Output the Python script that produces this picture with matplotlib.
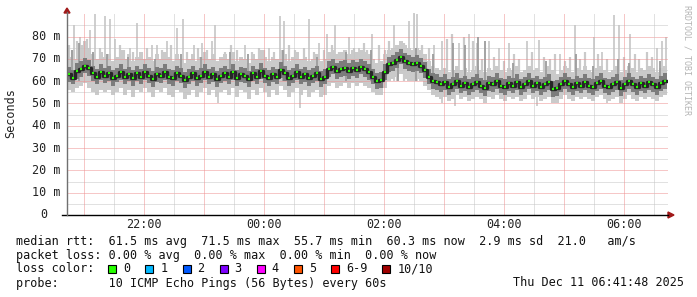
import matplotlib
matplotlib.use("Agg")
import matplotlib.pyplot as plt
from matplotlib.patches import Rectangle, Polygon
import numpy as np

plt.rcParams['lines.scale_dashes'] = False
MONO = 'DejaVu Sans Mono'

# ---------------- data (minutes after 20:43, 4-minute steps) ----------------
step_min = 4
median = [63.0, 61.5, 64.5, 65.5, 67.0, 66.0, 63.5, 62.0, 64.0, 62.5,
          63.5, 61.5, 62.5, 64.0, 62.0, 63.0, 61.5, 63.5, 62.0, 64.0,
          62.5, 61.0, 63.0, 62.5, 64.0, 62.0, 61.5, 63.5, 62.5, 60.5,
          62.0, 63.5, 61.5, 62.5, 64.0, 62.0, 63.0, 61.0, 62.5, 63.5,
          62.0, 64.0, 61.5, 63.0, 62.5, 61.0, 63.5, 62.0, 64.5, 62.5,
          61.5, 63.0, 62.0, 65.0, 63.5, 61.5, 62.5, 64.0, 62.0, 63.0,
          61.5, 62.5, 63.5, 61.0, 62.0, 65.5, 66.5, 64.5, 65.5, 66.0,
          64.5, 66.0, 65.0, 66.5, 65.5, 64.0, 62.0, 60.0, 60.5, 64.0,
          67.5, 68.0, 69.5, 71.0, 69.0, 68.0, 67.5, 68.0, 67.0, 65.0,
          62.0, 60.0, 59.5, 58.5, 59.5, 57.5, 58.5, 60.0, 58.0, 59.0,
          57.5, 58.5, 59.5, 58.0, 57.0, 59.0, 58.5, 60.0, 58.0, 57.5,
          59.0, 58.0, 59.5, 57.5, 58.5, 60.0, 58.0, 59.0, 57.5, 58.5,
          59.5, 56.5, 57.0, 58.5, 60.0, 58.5, 57.5, 59.0, 58.0, 59.5,
          58.0, 57.5, 59.0, 60.0, 58.0, 57.5, 58.5, 59.5, 57.0, 58.5,
          60.0, 58.5, 57.5, 59.0, 58.0, 59.5, 58.5, 57.5, 59.0, 60.0]

light_hi = [71, 74, 70, 76, 78, 75, 72, 70, 73, 71,
            72, 69, 71, 74, 70, 72, 69, 71, 73, 70,
            71, 69, 72, 70, 73, 71, 69, 72, 70, 68,
            70, 72, 69, 71, 73, 70, 72, 69, 71, 72,
            70, 73, 69, 71, 70, 68, 72, 70, 74, 71,
            69, 71, 70, 74, 72, 69, 71, 73, 70, 71,
            69, 70, 72, 69, 70, 73, 74, 72, 73, 74,
            72, 74, 73, 74, 73, 72, 70, 68, 69, 72,
            74, 75, 76, 78, 76, 75, 74, 75, 74, 72,
            69, 67, 66, 65, 66, 64, 65, 67, 65, 66,
            64, 65, 67, 65, 64, 66, 65, 67, 65, 64,
            66, 65, 67, 64, 65, 67, 65, 66, 64, 65,
            67, 65, 63, 65, 67, 66, 64, 66, 65, 67,
            65, 64, 66, 67, 65, 64, 65, 67, 64, 65,
            67, 66, 64, 66, 65, 67, 66, 64, 66, 67]

light_lo = [56, 55, 57, 58, 59, 57, 55, 54, 56, 55,
            56, 54, 55, 57, 54, 56, 53, 56, 55, 57,
            55, 53, 56, 55, 57, 54, 53, 56, 55, 52,
            54, 56, 53, 55, 57, 54, 56, 53, 55, 56,
            54, 57, 53, 56, 55, 52, 56, 54, 57, 55,
            53, 56, 54, 58, 56, 53, 55, 57, 54, 56,
            53, 55, 56, 53, 54, 58, 59, 57, 58, 59,
            57, 59, 58, 59, 58, 57, 55, 54, 54, 57,
            60, 61, 62, 63, 61, 60, 60, 61, 60, 58,
            56, 54, 53, 52, 53, 51, 52, 54, 52, 53,
            51, 52, 53, 52, 50, 53, 52, 54, 52, 51,
            53, 52, 53, 51, 52, 54, 52, 53, 51, 52,
            53, 50, 50, 52, 54, 52, 51, 53, 52, 53,
            52, 51, 53, 54, 52, 51, 52, 53, 50, 52,
            54, 52, 51, 53, 52, 53, 52, 51, 53, 54]

dark_lo = [59.5, 58.5, 61.0, 62.0, 63.5, 62.5, 60.0, 58.5, 60.5, 59.0,
           60.0, 58.0, 59.5, 60.5, 58.5, 60.0, 58.0, 60.0, 58.5, 60.5,
           59.0, 57.5, 59.5, 59.0, 60.5, 58.5, 58.0, 60.0, 59.0, 57.0,
           58.5, 60.0, 58.0, 59.0, 60.5, 58.5, 59.5, 57.5, 59.0, 60.0,
           58.5, 60.5, 58.0, 59.5, 59.0, 57.5, 60.0, 58.5, 61.0, 59.0,
           58.0, 59.5, 58.5, 61.5, 60.0, 58.0, 59.0, 60.5, 58.5, 59.5,
           58.0, 59.0, 60.0, 57.5, 58.5, 62.0, 63.0, 61.0, 62.0, 62.5,
           61.0, 62.5, 61.5, 63.0, 62.0, 60.5, 58.5, 56.5, 57.0, 60.5,
           64.0, 64.5, 66.0, 67.5, 65.5, 64.5, 64.0, 64.5, 63.5, 61.5,
           58.5, 56.5, 56.0, 55.0, 56.0, 54.0, 55.0, 56.5, 54.5, 55.5,
           54.0, 55.0, 56.0, 54.5, 53.5, 55.5, 55.0, 56.5, 54.5, 54.0,
           55.5, 54.5, 56.0, 54.0, 55.0, 56.5, 54.5, 55.5, 54.0, 55.0,
           56.0, 53.0, 53.5, 55.0, 56.5, 55.0, 54.0, 55.5, 54.5, 56.0,
           54.5, 54.0, 55.5, 56.5, 54.5, 54.0, 55.0, 56.0, 53.5, 55.0,
           56.5, 55.0, 54.0, 55.5, 54.5, 56.0, 55.0, 54.0, 55.5, 56.5]

dark_hi = [66.5, 65.0, 68.0, 69.0, 70.5, 69.5, 67.0, 65.5, 67.5, 66.0,
           67.0, 65.0, 66.0, 67.5, 65.5, 66.5, 65.0, 67.0, 65.5, 67.5,
           66.0, 64.5, 66.5, 66.0, 67.5, 65.5, 65.0, 67.0, 66.0, 64.0,
           65.5, 67.0, 65.0, 66.0, 67.5, 65.5, 66.5, 64.5, 66.0, 67.0,
           65.5, 67.5, 65.0, 66.5, 66.0, 64.5, 67.0, 65.5, 68.0, 66.0,
           65.0, 66.5, 65.5, 68.5, 67.0, 65.0, 66.0, 67.5, 65.5, 66.5,
           65.0, 66.0, 67.0, 64.5, 65.5, 69.0, 70.0, 68.0, 69.0, 69.5,
           68.0, 69.5, 68.5, 70.0, 69.0, 67.5, 65.5, 63.5, 64.0, 67.5,
           71.0, 71.5, 73.0, 74.5, 72.5, 71.5, 71.0, 71.5, 70.5, 68.5,
           65.5, 63.5, 63.0, 62.0, 63.0, 61.0, 62.0, 63.5, 61.5, 62.5,
           61.0, 62.0, 63.0, 61.5, 60.5, 62.5, 62.0, 63.5, 61.5, 61.0,
           62.5, 61.5, 63.0, 61.0, 62.0, 63.5, 61.5, 62.5, 61.0, 62.0,
           63.0, 60.0, 60.5, 62.0, 63.5, 62.0, 61.0, 62.5, 61.5, 63.0,
           61.5, 61.0, 62.5, 63.5, 61.5, 61.0, 62.0, 63.0, 60.5, 62.0,
           63.5, 62.0, 61.0, 62.5, 61.5, 63.0, 62.0, 61.0, 62.5, 63.5]

# tall single-minute spikes of the outer smoke (minute after 20:43, top value)
spike_t = [7, 13, 23, 28, 38, 43, 48, 63, 70, 75, 85, 90, 100, 110, 116, 127, 135, 145,
           148, 178, 202, 213, 217, 242, 252, 260, 268, 282, 292, 305, 327, 342, 347, 350,
           367, 375, 392, 402, 410, 422, 432, 442, 460, 472, 493, 508, 527, 535, 547, 552,
           563, 590, 595, 599]
spike_v = [85, 80, 83, 90, 89, 88, 79, 75, 86, 73, 76, 76, 78, 84, 88, 76, 77, 78,
           85, 76, 75, 89, 87, 88, 77, 81, 85, 80, 75, 81, 85, 87, 90.5, 90,
           76, 78, 77, 81, 77, 78, 75, 77, 78, 78.5, 72, 85, 80, 73, 89.5, 85,
           81, 75, 78, 80]
# smaller spikes filling the ragged top of the smoke
small_t = [2, 10, 17, 20, 33, 53, 57, 66, 80, 95, 104, 120, 131, 140, 158, 164, 170, 185,
           192, 197, 207, 222, 228, 237, 247, 257, 265, 272, 287, 297, 300, 312, 318, 322,
           330, 337, 355, 362, 380, 385, 397, 406, 415, 427, 437, 447, 452, 465, 477, 483,
           488, 498, 503, 513, 518, 531, 540, 557, 568, 572, 580, 585]
small_v = [76, 78, 74, 79, 75, 76, 74, 73, 75, 74, 76, 73, 75, 74, 73, 76, 74, 73,
           75, 74, 73, 76, 74, 75, 73, 74, 76, 73, 75, 77, 74, 76, 74, 78,
           76, 77, 76, 75, 79, 81, 80, 78, 70, 71, 69, 72, 70, 73, 71, 70,
           72, 69, 71, 70, 73, 72, 70, 71, 72, 70, 73, 71]
# darker (second shade) spikes
mid_t = [5, 12, 26, 40, 61, 88, 114, 134, 163, 181, 216, 250, 279, 304, 331, 349, 366,
         386, 398, 411, 418, 446, 479, 509, 526, 551, 562, 593]
mid_v = [74, 77, 73, 72, 71, 70, 72, 71, 73, 72, 74, 71, 73, 74, 73, 75, 72,
         77, 76, 80, 78, 68, 69, 72, 67, 70, 68, 69]
dip_t = [151, 233, 375, 388, 470, 540]
dip_v = [50, 48, 50, 49, 49, 50]

y_ticks = [10, 20, 30, 40, 50, 60, 70, 80]
y_tick_labels = ["10 m", "20 m", "30 m", "40 m", "50 m", "60 m", "70 m", "80 m"]
x_tick_pos = [77, 197, 317, 437, 557]          # minutes after 20:43
x_tick_labels = ["22:00", "00:00", "02:00", "04:00", "06:00"]

loss_labels = ["0", "1", "2", "3", "4", "5", "6-9", "10/10"]
loss_colors = ["#26ff00", "#00b8ff", "#0059ff", "#7e00ff", "#ff00ff", "#ff5500", "#ff0000", "#a00000"]

legend_lines = [
    "median rtt:  61.5 ms avg  71.5 ms max  55.7 ms min  60.3 ms now  2.9 ms sd  21.0   am/s",
    "packet loss: 0.00 % avg  0.00 % max  0.00 % min  0.00 % now",
    "loss color:",
    "probe:       10 ICMP Echo Pings (56 Bytes) every 60s",
]
stamp = "Thu Dec 11 06:41:48 2025"

# ---------------- figure ----------------
W, H = 697, 297
fig = plt.figure(figsize=(W / 100, H / 100), dpi=100)
fig.patch.set_facecolor('white')
L, R, B, T = 67, 668, 215, 13
ax = fig.add_axes([L / W, 1 - B / H, (R - L) / W, (B - T) / H])
ax.set_facecolor('white')
XMAX = 601
YMAX = (B - T) / 2.231
ax.set_xlim(0, XMAX)
ax.set_ylim(0, YMAX)
for s in ax.spines.values():
    s.set_visible(False)
ax.set_xticks([])
ax.set_yticks([])

n = len(median)
t = np.arange(n + 1) * step_min
def ext(a):
    a = list(a)
    return np.array(a + [a[-1]], dtype=float)

LIGHT = '#cacaca'
# outer smoke
ax.fill_between(t, ext(light_lo), ext(light_hi), step='post', color=LIGHT, lw=0, zorder=2)
ax.vlines(spike_t, 60, spike_v, colors=LIGHT, lw=1.3, zorder=2)
ax.vlines(small_t, 60, small_v, colors=LIGHT, lw=1.6, zorder=2)
ax.vlines(dip_t, dip_v, 60, colors=LIGHT, lw=1.3, zorder=2)

# grid (dotted 1px)
px = 0.72
dots = (0, (px, px))
for v in range(5, 90, 10):
    ax.axhline(v, color='#c4c4c4', lw=px, linestyle=dots, zorder=3)
for v in y_ticks:
    ax.axhline(v, color='#ee9090', lw=px, linestyle=dots, zorder=3)
for m in range(47, XMAX, 60):
    ax.axvline(m, color='#c4c4c4', lw=px, linestyle=dots, zorder=3)
for m in range(17, XMAX, 60):
    ax.axvline(m, color='#ee9090', lw=px, linestyle=dots, zorder=3)

# inner smoke
ax.vlines(mid_t, 60, mid_v, colors='#9c9c9c', lw=1.3, zorder=4)
ax.fill_between(t, ext(dark_lo), ext(dark_hi), step='post', color='#7c7c7c', lw=0, zorder=4)
ax.step(t, ext(median), where='post', color='#262626', lw=2.4, zorder=5)
# median colored by loss (all 0 % -> green)
ax.hlines(median, t[:-1] + 0.8, t[:-1] + 3.0, colors=loss_colors[0], lw=1.6, zorder=6)

# ---------------- axes decorations (pixel placed) ----------------
def fx(x):
    return x / W
def fy(y):
    return 1 - y / H

fig.add_artist(plt.Line2D([fx(62), fx(668)], [fy(215), fy(215)], color='black', lw=1.0))
fig.add_artist(plt.Line2D([fx(67), fx(67)], [fy(215), fy(12)], color='#707070', lw=1.0))
fig.add_artist(Polygon([(fx(64), fy(13)), (fx(70), fy(13)), (fx(67), fy(8))],
                       closed=True, color='#a01818', transform=fig.transFigure))
fig.add_artist(Polygon([(fx(668), fy(212)), (fx(668), fy(218)), (fx(674), fy(215))],
                       closed=True, color='#a01818', transform=fig.transFigure))

FS = 8.5
ytr = ax.get_yaxis_transform()
xoff = (60 - L) / (R - L)
for v, lab in zip(y_ticks, y_tick_labels):
    ax.text(xoff, v, lab, transform=ytr, ha='right', va='center', family=MONO, fontsize=FS, color='#222222')
ax.text((47 - L) / (R - L), 0, "0", transform=ytr, ha='right', va='center', family=MONO, fontsize=FS, color='#222222')

xtr = ax.get_xaxis_transform()
for m, lab in zip(x_tick_pos, x_tick_labels):
    ax.text(m, -(224 - B) / (B - T), lab, transform=xtr, ha='center', va='center',
            family=MONO, fontsize=FS, color='#222222')

fig.text(fx(11), fy(113), "Seconds", rotation=90, ha='center', va='center',
         family=MONO, fontsize=FS, color='#222222')
fig.text(fx(687), fy(5), "RRDTOOL / TOBI OETIKER", rotation=-90, ha='center', va='top',
         family=MONO, fontsize=6.0, color='#b4b4b4')

line_y = [241, 255, 269, 283]
for yy, txt in zip(line_y, legend_lines):
    fig.text(fx(16), fy(yy), txt, ha='left', va='center', family=MONO, fontsize=FS, color='#111111')
fig.text(fx(513), fy(283), stamp, ha='left', va='center', family=MONO, fontsize=FS, color='#111111')

cw = 7.11
bx = 108.3
for lab, col in zip(loss_labels, loss_colors):
    fig.add_artist(Rectangle((fx(bx), fy(273)), 8 / W, 8 / H, transform=fig.transFigure,
                             facecolor=col, edgecolor='black', lw=0.8))
    lx = bx + 15
    fig.text(fx(lx), fy(269), lab, ha='left', va='center', family=MONO, fontsize=FS, color='#111111')
    bx = lx + len(lab) * cw + 15

fig.savefig("out.png", dpi=100, facecolor='white')
